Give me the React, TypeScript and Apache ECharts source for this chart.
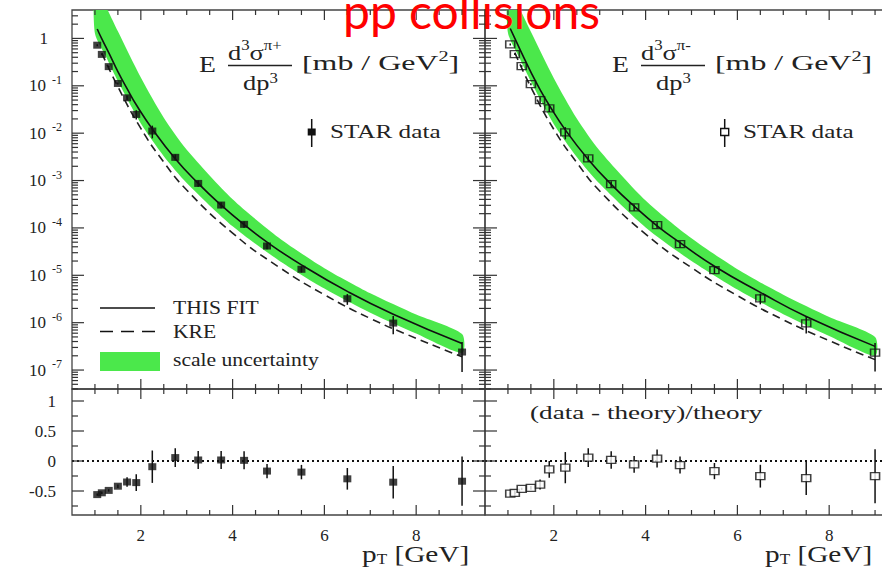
import React, { useEffect, useRef } from 'react';
import * as echarts from 'echarts';

// ---------------- data ----------------
const pT = [1.05, 1.15, 1.3, 1.5, 1.7, 1.9, 2.25, 2.75, 3.25, 3.75, 4.25, 4.75, 5.5, 6.5, 7.5, 9.0];

const piPlusData = [0.72, 0.46, 0.254, 0.112, 0.0558, 0.0249, 0.0111, 3.09e-3, 8.7e-4, 3.04e-4, 1.19e-4, 4.15e-5, 1.34e-5, 3.2e-6, 9.8e-7, 2.4e-7];
const piPlusRelErr = [0.045, 0.043, 0.04, 0.05, 0.12, 0.22, 0.3, 0.147, 0.147, 0.147, 0.148, 0.144, 0.147, 0.256, 0.417, 0.62];
const piPlusFit = [1.585, 0.977, 0.501, 0.1995, 0.0871, 0.0398, 0.0123, 2.88e-3, 8.71e-4, 3.02e-4, 1.175e-4, 5.01e-5, 1.66e-5, 4.57e-6, 1.51e-6, 3.63e-7];

const piMinusData = [0.746, 0.467, 0.261, 0.108, 0.05, 0.0333, 0.0104, 2.94e-3, 8.43e-4, 2.72e-4, 1.15e-4, 4.57e-5, 1.29e-5, 3.27e-6, 9.7e-7, 2.33e-7];
const piMinusRelErr = [0.044, 0.043, 0.037, 0.054, 0.14, 0.163, 0.29, 0.147, 0.143, 0.148, 0.144, 0.15, 0.162, 0.254, 0.39, 0.6];
const piMinusFit = [1.622, 1.0, 0.49, 0.195, 0.0832, 0.0389, 0.01175, 2.79e-3, 8.32e-4, 2.88e-4, 1.11e-4, 4.9e-5, 1.55e-5, 4.37e-6, 1.35e-6, 3.16e-7];

const ratioPlus = [-0.56, -0.53, -0.49, -0.42, -0.35, -0.36, -0.095, 0.057, 0.017, 0.017, 0.011, -0.168, -0.185, -0.297, -0.353, -0.337];
const ratioPlusErr = [0.02, 0.02, 0.02, 0.03, 0.08, 0.14, 0.27, 0.155, 0.15, 0.15, 0.15, 0.12, 0.12, 0.18, 0.27, 0.41];
const ratioMinus = [-0.544, -0.532, -0.465, -0.448, -0.392, -0.14, -0.111, 0.057, 0.017, -0.056, 0.04, -0.067, -0.168, -0.253, -0.286, -0.253];
const ratioMinusErr = [0.02, 0.02, 0.02, 0.03, 0.085, 0.14, 0.26, 0.155, 0.145, 0.14, 0.15, 0.14, 0.135, 0.19, 0.28, 0.45];

const bandX = [1.0, 1.25, 1.5, 2.0, 2.5, 3.0, 4.0, 5.0, 6.0, 7.0, 8.0, 9.0];
const bandUpPlus = [12.7, 4.47, 1.41, 0.149, 0.0211, 4.47e-3, 4.03e-4, 6.31e-5, 1.41e-5, 4.17e-6, 1.48e-6, 5.75e-7];
const bandLoPlus = [1.27, 0.398, 0.126, 0.016, 3.27e-3, 8.91e-4, 1.08e-4, 2.09e-5, 5.25e-6, 1.62e-6, 5.89e-7, 2.29e-7];
const bandUpMinus = [13.2, 4.37, 1.38, 0.145, 0.0204, 4.27e-3, 3.8e-4, 6.03e-5, 1.35e-5, 3.89e-6, 1.32e-6, 5.01e-7];
const bandLoMinus = [1.32, 0.389, 0.123, 0.0155, 3.16e-3, 8.51e-4, 1.02e-4, 2.0e-5, 5.01e-6, 1.51e-6, 5.25e-7, 2.0e-7];

const kreX = [1.15, 1.5, 2.0, 2.5, 3.0, 4.0, 5.0, 6.0, 7.0, 8.0, 9.0];
const krePlus = [0.49, 0.0955, 0.0126, 2.45e-3, 6.3e-4, 7.76e-5, 1.51e-5, 3.89e-6, 1.23e-6, 4.68e-7, 1.9e-7];
const kreMinus = [0.501, 0.0933, 0.012, 2.4e-3, 6.03e-4, 7.41e-5, 1.45e-5, 3.72e-6, 1.15e-6, 4.17e-7, 1.66e-7];

const zeroLineX = [0.5, 9.5];
const zeroLineY = [0, 0];

// ticks / labels
const xLabelValues = [2, 4, 6, 8];
const xMajorTicks = [2, 4, 6, 8];
const xMinorTicks = [1, 1.5, 2.5, 3, 3.5, 4.5, 5, 5.5, 6.5, 7, 7.5, 8.5, 9];
const logLabelValues = [1e-7, 1e-6, 1e-5, 1e-4, 1e-3, 1e-2, 1e-1, 1];
const logDecades = [-8, -7, -6, -5, -4, -3, -2, -1, 0];
const logMultipliers = [2, 3, 4, 5, 6, 7, 8, 9];
const ratioMajor = [-0.5, 0, 0.5, 1];
const ratioMinor = [-0.75, -0.25, 0.25, 0.75];

// ---------------- style ----------------
const SERIF = '"Liberation Serif", "DejaVu Serif", serif';
const INK = '#222222';
const GREEN = '#4be84b';
const LOG_MIN = Math.pow(10, -7.4);
const LOG_MAX = Math.pow(10, 0.6);

const X0 = 72;
const XM = 485;
const PW = 413;
const TOP = 10;
const MID = 389;
const BOT = 515;

function tickRows(isLog: boolean) {
  const rows: number[][] = [];
  const yRef = isLog ? 1e-3 : 0;
  xMajorTicks.forEach((v) => rows.push([v, yRef, 0, 0]));
  xMinorTicks.forEach((v) => rows.push([v, yRef, 1, 0]));
  if (isLog) {
    logDecades.forEach((e) => {
      const d = Math.pow(10, e);
      if (d >= LOG_MIN && d <= LOG_MAX) rows.push([5, d, 0, 1]);
      logMultipliers.forEach((m) => {
        const v = m * d;
        if (v > LOG_MIN && v < LOG_MAX) rows.push([5, v, 1, 1]);
      });
    });
  } else {
    ratioMajor.forEach((v) => rows.push([5, v, 0, 1]));
    ratioMinor.forEach((v) => rows.push([5, v, 1, 1]));
  }
  return rows;
}

function tickSeries(idx: number, isLog: boolean) {
  return {
    type: 'custom',
    xAxisIndex: idx,
    yAxisIndex: idx,
    silent: true,
    z: 10,
    clip: false,
    data: tickRows(isLog),
    renderItem: (params: any, api: any) => {
      const cs = params.coordSys;
      const kind = api.value(2);
      const orient = api.value(3);
      const p = api.coord([api.value(0), api.value(1)]);
      const style = { stroke: '#333333', lineWidth: 1.2 };
      if (orient === 0) {
        const len = kind === 0 ? 10 : 5;
        return {
          type: 'group',
          children: [
            { type: 'line', shape: { x1: p[0], y1: cs.y, x2: p[0], y2: cs.y + len }, style },
            { type: 'line', shape: { x1: p[0], y1: cs.y + cs.height, x2: p[0], y2: cs.y + cs.height - len }, style },
          ],
        };
      }
      const len = kind === 0 ? 12 : 6;
      return {
        type: 'group',
        children: [
          { type: 'line', shape: { x1: cs.x, y1: p[1], x2: cs.x + len, y2: p[1] }, style },
          { type: 'line', shape: { x1: cs.x + cs.width, y1: p[1], x2: cs.x + cs.width - len, y2: p[1] }, style },
        ],
      };
    },
  };
}

function bandSeries(idx: number, up: number[], lo: number[]) {
  return {
    type: 'custom',
    xAxisIndex: idx,
    yAxisIndex: idx,
    silent: true,
    z: 1,
    clip: true,
    data: bandX.map((x, i) => [x, lo[i], up[i]]),
    encode: { x: 0, y: [1, 2] },
    renderItem: (params: any, api: any) => {
      if (params.dataIndexInside !== 0) return { type: 'group', children: [] };
      const n = params.dataInsideLength;
      const upper: number[][] = [];
      const lower: number[][] = [];
      for (let j = 0; j < n; j++) {
        upper.push(api.coord([api.value(0, j), api.value(2, j)]));
        lower.push(api.coord([api.value(0, j), api.value(1, j)]));
      }
      const points = upper.concat(lower.reverse());
      return {
        type: 'polygon',
        shape: { points, smooth: 0.25 },
        style: { fill: GREEN, stroke: 'none' },
      };
    },
  };
}

function errSeries(idx: number, rows: number[][]) {
  return {
    type: 'custom',
    xAxisIndex: idx,
    yAxisIndex: idx,
    silent: true,
    z: 4,
    data: rows,
    encode: { x: 0, y: [1, 2] },
    renderItem: (params: any, api: any) => {
      const a = api.coord([api.value(0), api.value(1)]);
      const b = api.coord([api.value(0), api.value(2)]);
      return {
        type: 'line',
        shape: { x1: a[0], y1: a[1], x2: b[0], y2: b[1] },
        style: { stroke: '#111111', lineWidth: 1.5 },
      };
    },
  };
}

function spectrumSeries(idx: number, data: number[], relErr: number[], fit: number[], up: number[], lo: number[], kre: number[], open: boolean) {
  return [
    bandSeries(idx, up, lo),
    {
      type: 'line', xAxisIndex: idx, yAxisIndex: idx, symbol: 'none', smooth: true, silent: true, z: 2,
      lineStyle: { color: '#222222', width: 1.6, type: [8, 5] },
      data: kreX.map((x, i) => [x, kre[i]]),
    },
    {
      type: 'line', xAxisIndex: idx, yAxisIndex: idx, symbol: 'none', smooth: true, silent: true, z: 2,
      lineStyle: { color: '#111111', width: 1.6 },
      data: pT.map((x, i) => [x, fit[i]]),
    },
    errSeries(idx, pT.map((x, i) => [x, data[i] * (1 - relErr[i]), data[i] * (1 + relErr[i])])),
    {
      type: 'scatter', xAxisIndex: idx, yAxisIndex: idx, symbol: 'rect', symbolSize: open ? [9, 7] : [8, 7], silent: true, z: 5,
      itemStyle: open ? { color: 'rgba(0,0,0,0)', borderColor: '#111111', borderWidth: 1.4 } : { color: '#111111' },
      data: pT.map((x, i) => [x, data[i]]),
    },
    tickSeries(idx, true),
  ];
}

function ratioSeries(idx: number, vals: number[], errs: number[], open: boolean) {
  return [
    {
      type: 'line', xAxisIndex: idx, yAxisIndex: idx, symbol: 'none', silent: true, z: 2,
      lineStyle: { color: '#111111', width: 1.8, type: [2, 3] },
      data: zeroLineX.map((x, i) => [x, zeroLineY[i]]),
    },
    errSeries(idx, pT.map((x, i) => [x, vals[i] - errs[i], vals[i] + errs[i]])),
    {
      type: 'scatter', xAxisIndex: idx, yAxisIndex: idx, symbol: 'rect', symbolSize: open ? [9, 7] : [8, 7], silent: true, z: 5,
      itemStyle: open ? { color: '#ffffff', borderColor: '#111111', borderWidth: 1.4 } : { color: '#111111' },
      data: pT.map((x, i) => [x, vals[i]]),
    },
    tickSeries(idx, false),
  ];
}

function serifText(x: number, y: number, text: string, size: number, sx: number, extra: any = {}) {
  return {
    type: 'text', x, y, scaleX: sx, z: 50, silent: true,
    style: { text, fontFamily: SERIF, fontSize: size, fill: INK, align: 'left', verticalAlign: 'middle', ...extra },
  };
}

function formula(dx: number, sign: string) {
  const rich = {
    n: { fontFamily: SERIF, fontSize: 22, fill: INK, lineHeight: 28, verticalAlign: 'middle' },
    s: { fontFamily: SERIF, fontSize: 14, fill: INK, lineHeight: 28, verticalAlign: 'top' },
  };
  const richD = {
    n: { fontFamily: SERIF, fontSize: 22, fill: INK, lineHeight: 22, verticalAlign: 'middle' },
    s: { fontFamily: SERIF, fontSize: 14, fill: INK, lineHeight: 22, verticalAlign: 'top' },
  };
  return [
    serifText(199 + dx, 64, 'E', 23, 1.2),
    { type: 'text', x: 228 + dx, y: 52, scaleX: 1.2, z: 50, silent: true, style: { text: '{n|d}{s|3}{n|σ}{s|π' + sign + '}', rich, align: 'left', verticalAlign: 'middle' } },
    { type: 'line', z: 50, silent: true, shape: { x1: 228 + dx, y1: 65.5, x2: 292 + dx, y2: 65.5 }, style: { stroke: INK, lineWidth: 1.5 } },
    { type: 'text', x: 243 + dx, y: 82, scaleX: 1.2, z: 50, silent: true, style: { text: '{n|dp}{s|3}', rich: richD, align: 'left', verticalAlign: 'middle' } },
    { type: 'text', x: 302 + dx, y: 63, scaleX: 1.45, z: 50, silent: true, style: { text: '{n|[mb / GeV}{s|2}{n|]}', rich, align: 'left', verticalAlign: 'middle' } },
  ];
}

function starLegend(dx: number, open: boolean) {
  return [
    { type: 'line', z: 50, silent: true, shape: { x1: 311.7 + dx, y1: 119, x2: 311.7 + dx, y2: 147 }, style: { stroke: '#111111', lineWidth: 1.5 } },
    {
      type: 'rect', z: 51, silent: true, shape: { x: 307.7 + dx, y: 128.5, width: 8, height: 7 },
      style: open ? { fill: '#ffffff', stroke: '#111111', lineWidth: 1.4 } : { fill: '#111111' },
    },
    serifText(330 + dx, 132, 'STAR data', 18, 1.4),
  ];
}

function axisName(x: number) {
  return {
    type: 'text', x, y: 554, scaleX: 1.22, z: 50, silent: true,
    style: {
      text: '{n|p}{t|T}{n| [GeV]}', align: 'left', verticalAlign: 'middle',
      rich: {
        n: { fontFamily: SERIF, fontSize: 24, fill: INK, lineHeight: 24, verticalAlign: 'middle' },
        t: { fontFamily: SERIF, fontSize: 14, fill: INK, lineHeight: 24, verticalAlign: 'bottom' },
      },
    },
  };
}

function logFormatter(v: number) {
  const e = Math.round(Math.log10(v));
  if (e === 0) return '{one|1}';
  return '{b|10}{s|' + e + '}';
}

export default function App() {
  const ref = useRef<HTMLDivElement>(null);
  useEffect(() => {
    if (!ref.current) return;
    const chart = echarts.init(ref.current, undefined, { renderer: 'svg' });

    const grids = [
      { left: X0, top: TOP, width: PW, height: MID - TOP },
      { left: X0, top: MID, width: PW, height: BOT - MID },
      { left: XM, top: TOP, width: PW, height: MID - TOP },
      { left: XM, top: MID, width: PW, height: BOT - MID },
    ].map((g) => ({ ...g, show: true, borderColor: '#444444', borderWidth: 1.3, backgroundColor: 'transparent', containLabel: false, outerBoundsMode: 'none' }));

    const xAxes = [0, 1, 2, 3].map((i) => ({
      type: 'value', gridIndex: i, min: 0.5, max: 9.5,
      axisLine: { show: false }, axisTick: { show: false }, splitLine: { show: false },
      axisLabel: {
        show: i === 1 || i === 3, customValues: xLabelValues, margin: 12,
        fontFamily: SERIF, fontSize: 17, color: INK,
      },
    }));

    const logLabel = {
      show: true, customValues: logLabelValues, margin: 10, formatter: logFormatter,
      rich: {
        b: { fontFamily: SERIF, fontSize: 17, color: INK, lineHeight: 24, verticalAlign: 'middle' },
        s: { fontFamily: SERIF, fontSize: 12, color: INK, lineHeight: 24, verticalAlign: 'top', padding: [0, 0, 0, 6] },
        one: { fontFamily: SERIF, fontSize: 17, color: INK, lineHeight: 24, verticalAlign: 'middle', padding: [0, 14, 0, 0] },
      },
    };

    const yAxes = [0, 1, 2, 3].map((i) => {
      const isLog = i === 0 || i === 2;
      const base: any = {
        gridIndex: i, axisLine: { show: false }, axisTick: { show: false }, splitLine: { show: false },
      };
      if (isLog) {
        return { ...base, type: 'log', logBase: 10, min: LOG_MIN, max: LOG_MAX, axisLabel: i === 0 ? logLabel : { show: false } };
      }
      return {
        ...base, type: 'value', min: -0.9, max: 1.2,
        axisLabel: i === 1
          ? { show: true, customValues: ratioMajor, margin: 16, fontFamily: SERIF, fontSize: 17, color: INK }
          : { show: false },
      };
    });

    const series: any[] = [
      ...spectrumSeries(0, piPlusData, piPlusRelErr, piPlusFit, bandUpPlus, bandLoPlus, krePlus, false),
      ...ratioSeries(1, ratioPlus, ratioPlusErr, false),
      ...spectrumSeries(2, piMinusData, piMinusRelErr, piMinusFit, bandUpMinus, bandLoMinus, kreMinus, true),
      ...ratioSeries(3, ratioMinus, ratioMinusErr, true),
    ];

    const graphic: any[] = [
      ...formula(0, '+'),
      ...formula(413, '-'),
      ...starLegend(0, false),
      ...starLegend(413, true),
      // legend of the left panel
      { type: 'line', z: 50, silent: true, shape: { x1: 100, y1: 308, x2: 155, y2: 308 }, style: { stroke: '#111111', lineWidth: 1.6 } },
      serifText(173, 308, 'THIS FIT', 18, 1.2),
      { type: 'line', z: 50, silent: true, shape: { x1: 100, y1: 331.5, x2: 155, y2: 331.5 }, style: { stroke: '#111111', lineWidth: 1.6, lineDash: [13, 8] } },
      serifText(173, 331.5, 'KRE', 18, 1.2),
      { type: 'rect', z: 50, silent: true, shape: { x: 100, y: 352, width: 60, height: 19 }, style: { fill: GREEN } },
      serifText(173, 360, 'scale uncertainty', 18, 1.2),
      serifText(530, 413, '(data - theory)/theory', 19, 1.43),
      axisName(362),
      axisName(765),
      {
        type: 'text', x: 343, y: 10, z: 100, silent: true,
        style: { text: 'pp collisions', fontFamily: 'Lato, "Open Sans", sans-serif', fontSize: 48, fill: '#ff0000', align: 'left', verticalAlign: 'middle' },
      },
    ];

    chart.setOption({
      animation: false,
      backgroundColor: '#ffffff',
      textStyle: { fontFamily: SERIF },
      grid: grids,
      xAxis: xAxes,
      yAxis: yAxes,
      series,
      graphic,
    });
    return () => chart.dispose();
  }, []);
  return <div ref={ref} style={{ position: 'absolute', left: 0, top: 0, width: 882, height: 569 }} />;
}
